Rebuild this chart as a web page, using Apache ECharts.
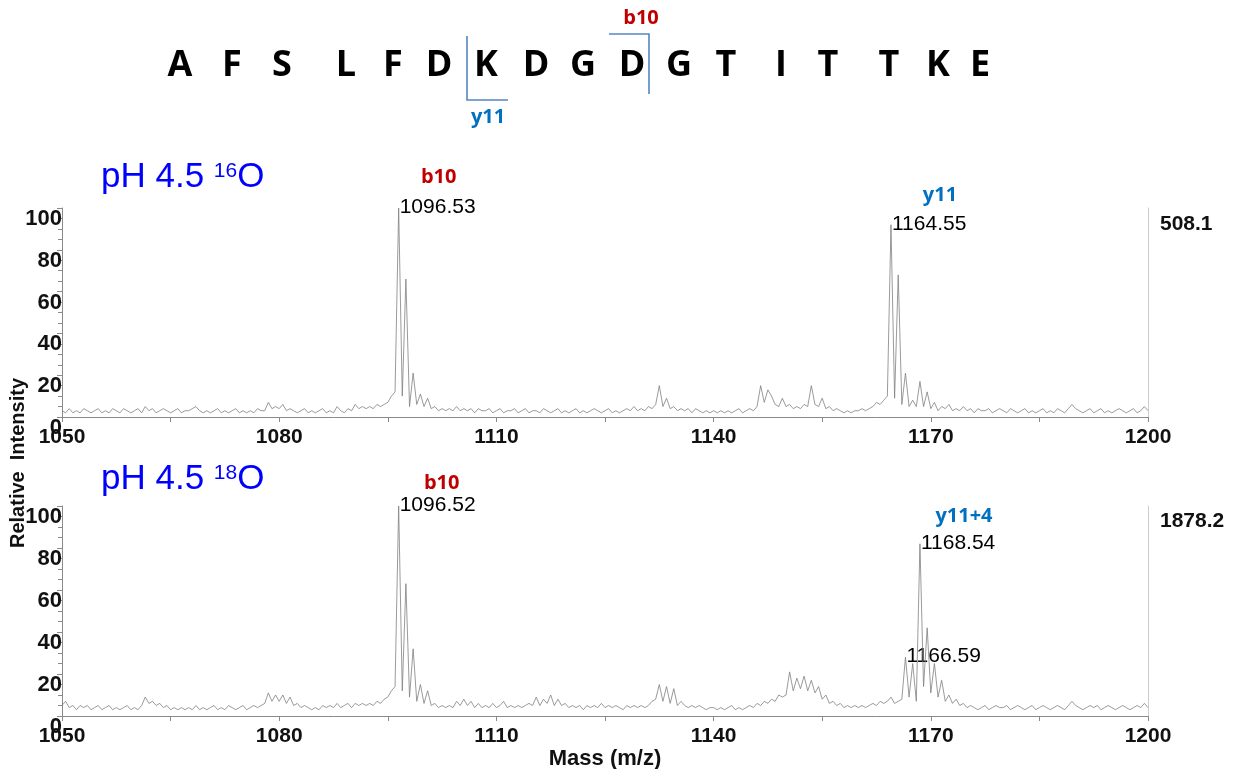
<!DOCTYPE html>
<html><head><meta charset="utf-8">
<script src="https://cdn.jsdelivr.net/npm/echarts@6/dist/echarts.min.js"></script>
<style>html,body{margin:0;padding:0;background:#fff}#c{width:1233px;height:769px}</style>
</head><body><div id="c"></div>
<script>
// ---------- data ----------
const MZ_START = 1050, MZ_END = 1200, MZ_STEP = 0.5;
const X_TICK_STEP = 15, X_LABEL_STEP = 30;
const Y_MIN = 0, Y_MAX = 100, Y_STEP = 20;
const SEQUENCE = ['A','F','S','L','F','D','K','D','G','D','G','T','I','T','T','K','E'];
const PANEL_TITLES = [['pH 4.5 ', '16', 'O'], ['pH 4.5 ', '18', 'O']];
const BASE_PEAK = ['508.1', '1878.2'];
const X_AXIS_NAME = 'Mass (m/z)';
const Y_AXIS_NAME = 'Relative  Intensity';

// relative intensity, one value every 0.5 m/z from 1050 to 1200
const P1_INT = [
 3,2,4,2,3,2,4,3,2,3,4,2,3,2,4,3,2,4,3,2,
 3,4,2,5,3,4,2,3,4,3,2,3,4,2,3,3,4,5,3,2,
 3,2,3,4,2,3,2,3,4,2,3,2,3,2,4,3,3,7,4,5,
 4,6,3,4,3,2,3,4,2,3,2,3,4,2,3,2,5,3,2,4,
 3,6,4,5,4,5,4,6,5,6,7,10,12,100,10,66,5,21,6,11,
 5,9,4,5,3,4,3,4,3,5,3,4,3,4,2,4,3,3,4,2,
 3,4,2,3,3,4,2,3,4,2,3,3,2,4,3,2,3,4,2,3,
 2,3,4,2,3,2,3,4,3,2,3,4,2,3,2,3,4,3,5,3,
 4,3,5,4,6,15,5,9,4,5,3,4,3,4,2,4,3,2,3,2,
 3,2,3,2,3,2,3,4,2,3,4,3,5,15,7,13,10,6,5,9,
 5,6,4,5,4,6,5,15,6,5,9,4,5,3,4,3,2,3,2,3,
 3,4,3,4,5,7,6,8,10,92,9,68,6,21,5,8,5,17,5,12,
 4,7,3,5,4,6,3,4,3,5,3,4,2,4,3,3,4,2,3,4,
 3,2,4,3,2,3,4,2,3,2,3,4,2,3,2,4,3,2,4,6,
 4,3,2,3,4,2,3,4,2,3,2,3,4,3,2,3,4,2,3,5,
 3
];
const P2_INT = [
 5,7,4,5,3,5,4,5,3,4,5,3,4,5,3,4,3,4,5,3,
 4,3,5,9,6,7,5,6,4,5,3,4,3,4,3,4,3,5,3,4,
 3,4,5,3,4,3,5,4,3,4,5,3,4,5,4,5,6,11,7,10,
 7,10,6,9,5,6,4,5,4,3,4,3,5,4,5,4,6,4,5,6,
 4,6,5,6,5,6,5,7,6,8,9,12,14,100,12,63,9,32,7,15,
 6,12,5,6,4,5,4,5,4,7,5,8,5,7,4,6,4,5,4,6,
 4,5,7,4,5,4,5,4,5,6,5,9,5,8,6,10,5,8,5,6,
 4,5,4,5,3,5,4,5,4,6,4,5,4,5,4,3,5,4,5,4,
 5,4,5,7,8,15,7,14,6,13,5,7,5,4,5,4,5,4,3,4,
 4,3,4,3,4,5,3,4,3,4,5,4,6,5,7,6,8,7,10,9,
 10,21,12,18,13,19,12,17,11,14,8,10,6,7,5,6,4,5,4,5,
 4,5,4,5,6,5,7,6,7,9,6,7,8,28,9,25,7,82,14,42,
 11,25,9,17,7,10,6,8,5,6,4,5,4,3,4,5,3,4,5,4,
 4,5,3,4,5,4,3,4,5,3,4,5,4,3,4,5,4,3,5,7,
 5,4,3,4,5,4,5,3,4,5,4,3,4,5,4,3,4,5,4,6,
 4
];
// annotated peaks: m/z sample, printed value, ion name
const P1_PEAK_MZ = [1096.5, 1164.5];
const P1_PEAK_TXT = ['1096.53', '1164.55'];
const P1_PEAK_ION = ['b10', 'y11'];
const P2_PEAK_MZ = [1096.5, 1168.5, 1166.5];
const P2_PEAK_TXT = ['1096.52', '1168.54', '1166.59'];
const P2_PEAK_ION = ['b10', 'y11+4', ''];

// ---------- layout / style ----------
const FONT = '"Liberation Sans", Arial, sans-serif';
const SEQ_FONT = '"Open Sans", "DejaVu Sans", sans-serif';
const RED = '#C00000', ION_BLUE = '#0070C0', LINE_BLUE = '#5585C5', TITLE_BLUE = '#0000FF';
const SEQ_X = [180,232,282,346,393,439,486,536,583,632,679,726,781,828,889,938,980];
const ION_DY = [[-30, -28], [-22, -27, 0]];
const ION_DX = [[0, 9], [3, 4, 0]];

function pairs(arr) { return arr.map((v, i) => [MZ_START + i * MZ_STEP, v]); }

const grids = [
  {left: 62, right: 85, top: 208, height: 209, outerBoundsMode: 'none', containLabel: false},
  {left: 62, right: 85, top: 506, height: 210, outerBoundsMode: 'none', containLabel: false}
];
function xAx(i) {
  return {
    type: 'value', gridIndex: i, min: MZ_START, max: MZ_END, interval: X_TICK_STEP,
    axisLine: {show: true, lineStyle: {color: '#8a8a8a', width: 1}},
    axisTick: {show: true, length: 5, lineStyle: {color: '#8a8a8a'}},
    axisLabel: {
      formatter: v => (Math.round(v - MZ_START) % X_LABEL_STEP === 0 ? String(v) : ''),
      fontSize: 21, fontWeight: 'bold', color: '#111', fontFamily: FONT, margin: 10,
      showMinLabel: true, showMaxLabel: true, hideOverlap: false
    },
    splitLine: {show: false},
    name: i === 1 ? X_AXIS_NAME : '', nameLocation: 'middle', nameGap: 32,
    nameTextStyle: {fontSize: 22, fontWeight: 'bold', color: '#111', fontFamily: FONT}
  };
}
function yAxLeft(i) {
  return {
    type: 'value', gridIndex: i, min: Y_MIN, max: Y_MAX, interval: Y_STEP, position: 'left',
    axisLine: {show: true, lineStyle: {color: '#8a8a8a', width: 1}},
    axisTick: {show: true, length: 5, lineStyle: {color: '#8a8a8a'}},
    minorTick: {show: true, splitNumber: 4, length: 4, lineStyle: {color: '#8a8a8a'}},
    axisLabel: {fontSize: 22, fontWeight: 'bold', color: '#111', fontFamily: FONT, margin: 0,
      verticalAlign: 'top', showMinLabel: true, showMaxLabel: true, hideOverlap: false},
    splitLine: {show: false}
  };
}
function yAxRight(i) {
  return {
    type: 'value', gridIndex: i, min: Y_MIN, max: Y_MAX, position: 'right',
    axisLine: {show: true, lineStyle: {color: '#cccccc', width: 1}},
    axisTick: {show: false}, axisLabel: {show: false}, splitLine: {show: false}
  };
}

const chart = echarts.init(document.getElementById('c'), null, {renderer: 'canvas'});
chart.setOption({
  animation: false,
  backgroundColor: '#fff',
  grid: grids,
  xAxis: [xAx(0), xAx(1)],
  yAxis: [yAxLeft(0), yAxLeft(1), yAxRight(0), yAxRight(1)],
  series: [
    {type: 'line', xAxisIndex: 0, yAxisIndex: 0, data: pairs(P1_INT), showSymbol: false,
     symbol: 'none', lineStyle: {color: '#808080', width: 0.8}, silent: true},
    {type: 'line', xAxisIndex: 1, yAxisIndex: 1, data: pairs(P2_INT), showSymbol: false,
     symbol: 'none', lineStyle: {color: '#808080', width: 0.8}, silent: true}
  ]
});

// ---------- annotations ----------
const g = [];
// sequence
SEQUENCE.forEach((s, i) => g.push({type: 'text', x: SEQ_X[i], y: 66,
  style: {text: s, font: 'bold 36px ' + SEQ_FONT, fill: '#000', align: 'center', verticalAlign: 'middle'}}));
// cleavage brackets
g.push({type: 'polyline', shape: {points: [[467, 36], [467, 100], [508, 100]]},
  style: {stroke: LINE_BLUE, lineWidth: 1.6, fill: null}});
g.push({type: 'polyline', shape: {points: [[609, 34], [649, 34], [649, 94]]},
  style: {stroke: LINE_BLUE, lineWidth: 1.6, fill: null}});
g.push({type: 'text', x: 488, y: 117, style: {text: 'y11', font: 'bold 20px ' + SEQ_FONT, fill: ION_BLUE, align: 'center', verticalAlign: 'middle'}});
g.push({type: 'text', x: 641, y: 18, style: {text: 'b10', font: 'bold 20px ' + SEQ_FONT, fill: RED, align: 'center', verticalAlign: 'middle'}});

// panel titles
[195, 497].forEach((yb, i) => {
  const t = PANEL_TITLES[i];
  g.push({type: 'text', x: 101, y: yb, style: {
    text: '{a|' + t[0] + '}{b|' + t[1] + '}{a|' + t[2] + '}',
    verticalAlign: 'bottom', align: 'left',
    rich: {
      a: {fontSize: 35, fontFamily: FONT, fill: TITLE_BLUE, color: TITLE_BLUE, lineHeight: 34, verticalAlign: 'bottom'},
      b: {fontSize: 21, fontFamily: FONT, fill: TITLE_BLUE, color: TITLE_BLUE, lineHeight: 21, verticalAlign: 'top'}
    }
  }});
});

// base peak intensities on the right
[[1160, 224], [1160, 521]].forEach((p, i) => g.push({type: 'text', x: p[0], y: p[1],
  style: {text: BASE_PEAK[i], font: 'bold 21px ' + FONT, fill: '#111', align: 'left', verticalAlign: 'middle'}}));

// axis title
g.push({type: 'text', x: 18, y: 463, rotation: Math.PI / 2,
  style: {text: Y_AXIS_NAME, font: 'bold 20px ' + FONT, fill: '#111', align: 'center', verticalAlign: 'middle'}});

// peak labels from data
function peakLabels(gi, mzs, txts, ions, ints) {
  mzs.forEach((mz, k) => {
    const idx = Math.round((mz - MZ_START) / MZ_STEP);
    const p = chart.convertToPixel({gridIndex: gi}, [mz, ints[idx]]);
    g.push({type: 'text', x: p[0] + 1, y: p[1] - 1,
      style: {text: txts[k], font: '21px ' + FONT, fill: '#000', align: 'left', verticalAlign: 'middle'}});
    if (ions[k]) {
      g.push({type: 'text', x: p[0] + 40 + ION_DX[gi][k], y: p[1] - 1 + ION_DY[gi][k],
        style: {text: ions[k], font: 'bold 20px ' + SEQ_FONT, fill: ions[k][0] === 'b' ? RED : ION_BLUE,
          align: 'center', verticalAlign: 'middle'}});
    }
  });
}
peakLabels(0, P1_PEAK_MZ, P1_PEAK_TXT, P1_PEAK_ION, P1_INT);
peakLabels(1, P2_PEAK_MZ, P2_PEAK_TXT, P2_PEAK_ION, P2_INT);

chart.setOption({graphic: g});
</script>
</body></html>
